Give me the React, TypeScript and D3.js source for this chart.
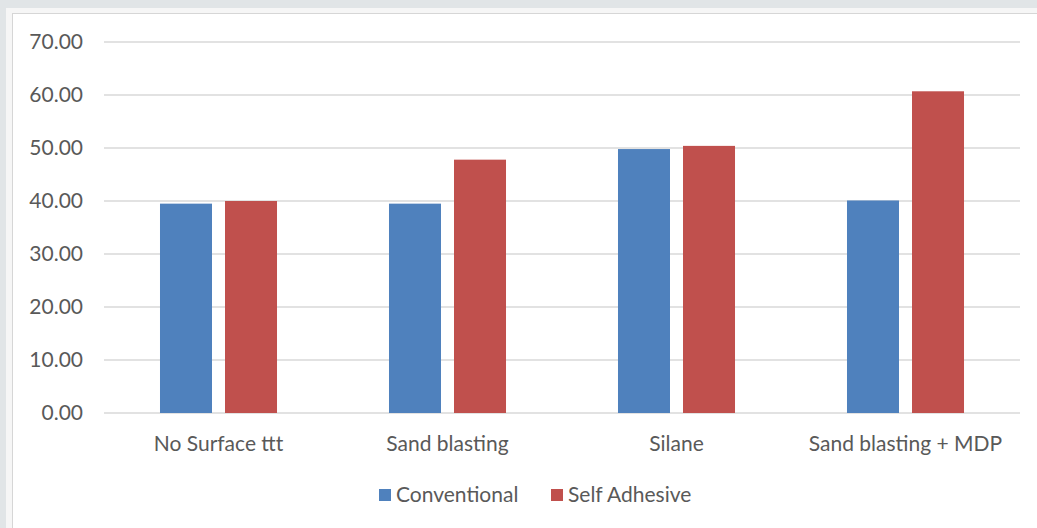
import React from "react";
import * as d3 from "d3";

const categories = ["No Surface ttt", "Sand blasting", "Silane", "Sand blasting + MDP"];
const seriesNames = ["Conventional", "Self Adhesive"];
const conventional = [39.5, 39.5, 49.8, 40.1];
const selfAdhesive = [40.0, 47.8, 50.4, 60.7];
const yTicks = [0, 10, 20, 30, 40, 50, 60, 70];
const colors = ["#4f81bd", "#c0504d"];

const W = 1037;
const H = 528;
const FONT = "Lato, 'Open Sans', sans-serif";

export default function App() {
  const left = 104;
  const right = 1020;
  const top = 42;
  const bottom = 413;

  const y = d3.scaleLinear().domain([0, 70]).range([bottom, top]);
  const x0 = d3.scaleBand<string>().domain(categories).range([left, right]).padding(0);
  const bw = x0.bandwidth();
  const x1 = d3
    .scaleBand<string>()
    .domain(seriesNames)
    .range([bw * 0.2445, bw * 0.7555])
    .paddingInner(0.2)
    .paddingOuter(0);

  const series = [conventional, selfAdhesive];

  return (
    <svg
      width={W}
      height={H}
      style={{ position: "absolute", left: 0, top: 0, display: "block" }}
      fontFamily={FONT}
    >
      <rect x={0} y={0} width={W} height={H} fill="#e1e5e7" />
      <rect x={6} y={8} width={W} height={H} fill="#f6f6f6" />
      <rect x={12.5} y={13.5} width={W} height={H} fill="#ffffff" stroke="#d6d6d6" strokeWidth={1} />

      {/* gridlines */}
      {yTicks.map((t) => (
        <line
          key={t}
          x1={left}
          x2={right}
          y1={y(t)}
          y2={y(t)}
          stroke="#d9d9d9"
          strokeWidth={1.5}
        />
      ))}

      {/* y tick labels */}
      {yTicks.map((t) => (
        <text
          key={"l" + t}
          x={83}
          y={y(t)}
          dy="0.35em"
          textAnchor="end"
          fontSize={21}
          fill="#595959"
        >
          {d3.format(".2f")(t)}
        </text>
      ))}

      {/* bars */}
      {categories.map((c, i) => (
        <g key={c} transform={`translate(${x0(c)},0)`}>
          {seriesNames.map((s, j) => (
            <rect
              key={s}
              x={x1(s)}
              y={y(series[j][i])}
              width={x1.bandwidth()}
              height={y(0) - y(series[j][i])}
              fill={colors[j]}
            />
          ))}
        </g>
      ))}

      {/* category labels */}
      {categories.map((c) => (
        <text
          key={"c" + c}
          x={(x0(c) as number) + bw / 2}
          y={451}
          textAnchor="middle"
          fontSize={21}
          fill="#595959"
        >
          {c}
        </text>
      ))}

      {/* legend */}
      {seriesNames.map((s, j) => {
        const lx = j === 0 ? 379 : 551;
        return (
          <g key={"lg" + s}>
            <rect x={lx} y={489} width={12} height={12} fill={colors[j]} />
            <text x={lx + 17} y={502} fontSize={21} fill="#595959">
              {s}
            </text>
          </g>
        );
      })}
    </svg>
  );
}
